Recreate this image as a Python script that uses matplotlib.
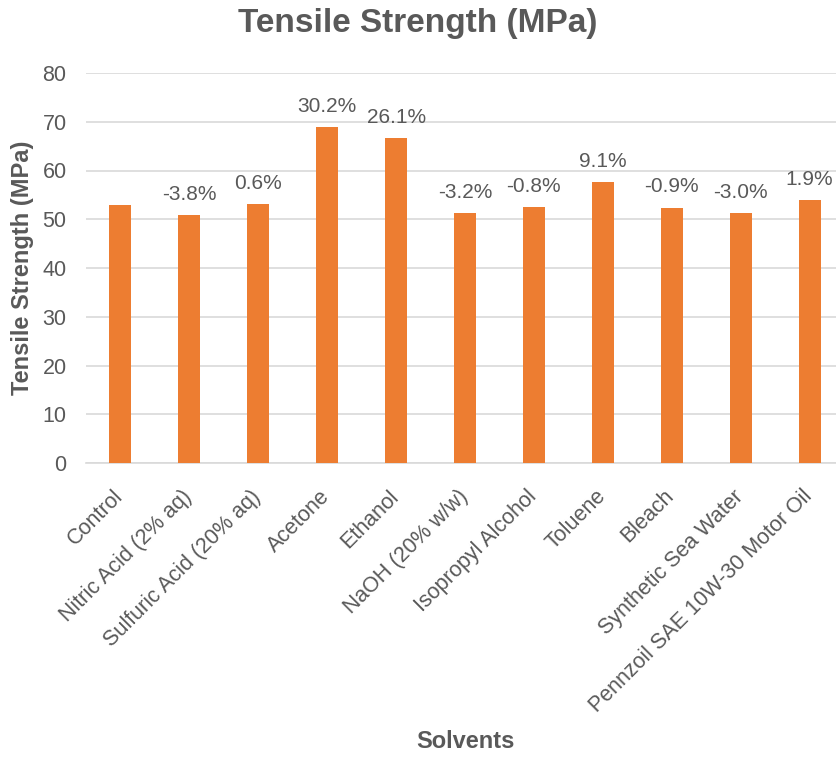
import matplotlib.pyplot as plt
from matplotlib.transforms import ScaledTranslation

solvents = ["Control", "Nitric Acid (2% aq)", "Sulfuric Acid (20% aq)", "Acetone",
            "Ethanol", "NaOH (20% w/w)", "Isopropyl Alcohol", "Toluene", "Bleach",
            "Synthetic Sea Water", "Pennzoil SAE 10W-30 Motor Oil"]
strength = [52.9, 50.9, 53.2, 68.9, 66.7, 51.2, 52.5, 57.7, 52.4, 51.3, 53.9]
change = ["", "-3.8%", "0.6%", "30.2%", "26.1%", "-3.2%", "-0.8%", "9.1%", "-0.9%", "-3.0%", "1.9%"]

txt = "#595959"
plt.rcParams["font.family"] = ["Liberation Sans", "DejaVu Sans"]

fig = plt.figure(figsize=(8.36, 7.58), dpi=100)
ax = fig.add_axes([86 / 836, 1 - 463 / 758, 758 / 836, 390 / 758])

x = range(len(solvents))
bars = ax.bar(x, strength, width=0.32, color="#ED7D31", zorder=3)
for b, lab in zip(bars, change):
    if lab:
        ax.annotate(lab, (b.get_x() + b.get_width() / 2, b.get_height()),
                    xytext=(0, 8), textcoords="offset points",
                    ha="center", va="bottom", fontsize=15, color=txt)

ax.set_xlim(-0.5, len(solvents) - 0.5)
ax.set_ylim(0, 80)
ax.set_yticks(range(0, 81, 10))
ax.yaxis.grid(True, color="#D9D9D9", linewidth=1.2, zorder=0)
for s in ["top", "right", "left"]:
    ax.spines[s].set_visible(False)
ax.spines["bottom"].set_color("#D9D9D9")
ax.spines["bottom"].set_linewidth(1.2)
ax.tick_params(length=0, colors=txt, labelsize=15.5)
ax.tick_params(axis="y", pad=14)
ax.set_xticks(list(x))
ax.set_xticklabels(solvents, rotation=45, ha="right", rotation_mode="anchor")
# push the slanted labels a bit down/left like the original
shift = ScaledTranslation(-8 / 100, -18 / 100, fig.dpi_scale_trans)
for t in ax.get_xticklabels():
    t.set_transform(t.get_transform() + shift)

ax.set_ylabel("Tensile Strength (MPa)", fontsize=17, fontweight="bold", color=txt, labelpad=6)
fig.text(0.5, 0.99, "Tensile Strength (MPa)", ha="center", va="top",
         fontsize=24, fontweight="bold", color=txt)
fig.text(465 / 836, 1 - 742 / 758, "Solvents", ha="center", va="center",
         fontsize=17, fontweight="bold", color=txt)

fig.savefig("out.png", dpi=100)
